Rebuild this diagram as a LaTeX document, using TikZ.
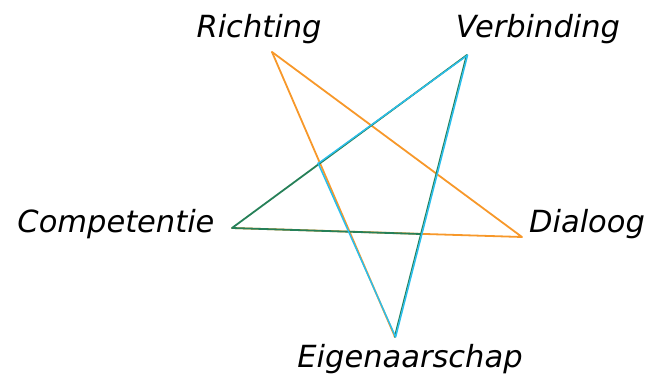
\documentclass[tikz,border=0pt]{standalone}
\usepackage{fontspec}
\setmainfont{DejaVu Sans}
\definecolor{starorange}{RGB}{247,152,42}
\definecolor{starblue}{RGB}{42,190,236}
\definecolor{stargreen}{RGB}{38,128,88}
\begin{document}
\begin{tikzpicture}[x=1pt,y=-1pt,
  lbl/.style={anchor=base,inner sep=0pt,font=\fontsize{30.5}{36}\selectfont\itshape},
  edge/.style={line width=1.8pt,line join=round,line cap=round}]
\useasboundingbox (0,0) rectangle (657,378);
\coordinate (R) at (272,52);
\coordinate (V) at (467,55);
\coordinate (C) at (232,228);
\coordinate (D) at (522,237);
\coordinate (E) at (395,337);
\coordinate (X1) at (318,163);
\coordinate (X2) at (421,234);
\node[lbl] (tR) at (259,37) {Richting};
\node[lbl] (tV) at (538,37) {Verbinding};
\node[lbl] (tC) at (116,232) {Competentie};
\node[lbl] (tD) at (587,232) {Dialoog};
\node[lbl] (tE) at (410,367) {Eigenaarschap};
% orange
\draw[edge,starorange] (R) -- (D) -- (C);
\draw[edge,starorange] (R) -- (E);
% green
\draw[edge,stargreen] (X2) -- (C) -- (V);
\draw[edge,stargreen,line width=1.2pt] ([xshift=-0.6pt]V) -- ([xshift=-0.6pt]E);
% blue
\draw[edge,starblue,line width=1.5pt] ([xshift=0.6pt]V) -- ([xshift=0.6pt]E) -- (X1);
\draw[edge,starblue,line width=1.4pt] ([yshift=-0.6pt]X1) -- ([yshift=-0.6pt]V);
\end{tikzpicture}
\end{document}
